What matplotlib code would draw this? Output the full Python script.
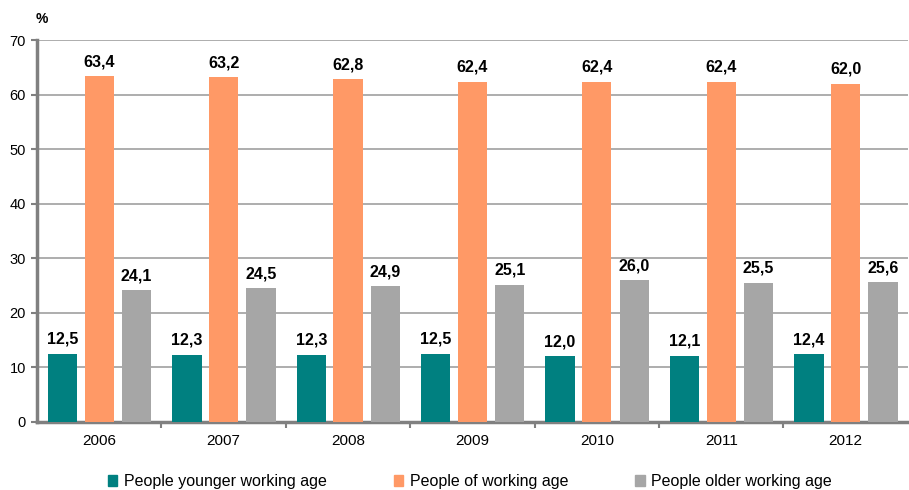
import numpy as np
import matplotlib.pyplot as plt
from matplotlib.patches import Patch

plt.rcParams["font.family"] = ["Liberation Sans", "DejaVu Sans"]

years = ["2006", "2007", "2008", "2009", "2010", "2011", "2012"]
younger = [12.5, 12.3, 12.3, 12.5, 12.0, 12.1, 12.4]
working = [63.4, 63.2, 62.8, 62.4, 62.4, 62.4, 62.0]
older = [24.1, 24.5, 24.9, 25.1, 26.0, 25.5, 25.6]

series = [
    ("People younger working age", younger, "#008080"),
    ("People of working age", working, "#FF9966"),
    ("People older working age", older, "#A6A6A6"),
]

fig = plt.figure(figsize=(9.09, 4.9), dpi=100)
ax = fig.add_axes([0.0407, 0.139, 0.958, 0.779])

x = np.arange(len(years))
width = 0.235
offsets = [-0.295, 0.0, 0.3]

for (name, vals, color), off in zip(series, offsets):
    bars = ax.bar(x + off, vals, width, color=color, zorder=3, label=name)
    for b, v in zip(bars, vals):
        ax.text(b.get_x() + b.get_width() / 2, v + 1.3, f"{v:.1f}".replace(".", ","),
                ha="center", va="bottom", fontsize=11.5, fontweight="bold", zorder=4)

ax.set_xlim(-0.5, len(years) - 0.5)
ax.set_ylim(0, 70)
ax.set_yticks(range(0, 71, 10))
ax.yaxis.grid(True, color="#A0A0A0", linewidth=1.2, zorder=0)
ax.set_axisbelow(True)

ax.set_xticks(x)
ax.set_xticklabels(years, fontsize=11)
ax.set_xticks(np.arange(0.5, len(years) - 0.5, 1), minor=True)
ax.tick_params(axis="x", which="major", length=0, pad=9)
ax.tick_params(axis="x", which="minor", length=4, width=1.5, color="#808080")
ax.tick_params(axis="y", length=4, width=1.5, color="#808080", labelsize=10.5, pad=4)

for s in ["top", "right"]:
    ax.spines[s].set_visible(False)
ax.spines["left"].set_color("#808080")
ax.spines["left"].set_linewidth(2.5)
ax.spines["bottom"].set_color("#808080")
ax.spines["bottom"].set_linewidth(2.5)

fig.text(0.046, 0.962, "%", fontsize=10, fontweight="bold", ha="center", va="center")

handles = [Patch(color=c, label=n) for n, _, c in series]
fig.legend(handles=handles, loc="center", bbox_to_anchor=(0.517, 0.017), ncol=3,
           frameon=False, fontsize=11.5, handlelength=0.6, handleheight=0.6,
           handletextpad=0.4, columnspacing=4.2)

fig.savefig("out.png", dpi=100)
